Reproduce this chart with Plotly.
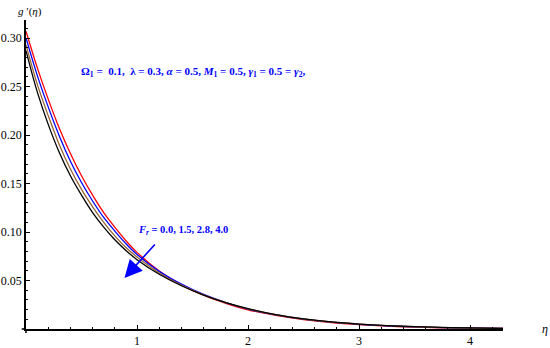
import plotly.graph_objects as go

# eta grid and g'(eta) for each F_r
eta = [0, 0.1, 0.2, 0.3, 0.4, 0.5, 0.6, 0.7, 0.8, 0.9, 1.0, 1.2, 1.4, 1.6, 1.8,
       2.0, 2.25, 2.5, 2.75, 3.0, 3.25, 3.5, 3.75, 4.0, 4.3]
g_fr00 = [0.307, 0.270, 0.237, 0.207, 0.181, 0.158, 0.138, 0.120, 0.105, 0.091, 0.079,
          0.0598, 0.0455, 0.0348, 0.0265, 0.0198, 0.014, 0.0097, 0.0066, 0.0045, 0.003,
          0.002, 0.0013, 0.0009, 0.0005]
g_fr15 = [0.300, 0.262, 0.229, 0.199, 0.173, 0.151, 0.132, 0.115, 0.101, 0.088, 0.0768,
          0.0594, 0.0462, 0.0356, 0.0272, 0.0205, 0.0145, 0.0101, 0.007, 0.0048, 0.0033,
          0.0022, 0.0015, 0.001, 0.0006]
g_fr28 = [0.293, 0.253, 0.220, 0.190, 0.165, 0.144, 0.126, 0.110, 0.096, 0.084, 0.0742,
          0.0578, 0.0452, 0.0352, 0.0272, 0.0208, 0.0147, 0.0103, 0.0072, 0.005, 0.0034,
          0.0023, 0.0015, 0.001, 0.0006]
g_fr40 = [0.287, 0.245, 0.211, 0.182, 0.158, 0.138, 0.120, 0.105, 0.092, 0.081, 0.0715,
          0.0565, 0.0446, 0.035, 0.0272, 0.021, 0.0149, 0.0105, 0.0073, 0.0051, 0.0035,
          0.0024, 0.0016, 0.0011, 0.0006]

series = [(g_fr00, "red"), (g_fr15, "blue"), (g_fr28, "#996633"), (g_fr40, "black")]

yticks = [0.05, 0.10, 0.15, 0.20, 0.25, 0.30]
xticks = [1, 2, 3, 4]

serif = "Liberation Serif"

fig = go.Figure()
for vals, col in series:
    fig.add_trace(go.Scatter(x=eta, y=vals, mode="lines", line=dict(color=col, width=1.3, shape="spline"),
                             showlegend=False, hoverinfo="skip"))

fig.update_layout(
    width=550, height=348,
    margin=dict(l=26, r=47, t=20, b=19),
    paper_bgcolor="white", plot_bgcolor="white",
    font=dict(family=serif, size=12, color="black"),
)
fig.update_xaxes(range=[0, 4.297], automargin=False, showgrid=False, zeroline=False, showline=True,
                 linecolor="black", linewidth=1.6, ticks="inside", ticklen=4, tickwidth=1, tickcolor="black",
                 tickvals=xticks, ticktext=[str(v) for v in xticks],
                 minor=dict(ticks="inside", dtick=0.2, ticklen=2, tickcolor="black"))
fig.update_yaxes(range=[0, 0.3186], automargin=False, showgrid=False, zeroline=False, showline=True,
                 linecolor="black", linewidth=1.6, ticks="inside", ticklen=4, tickwidth=1, tickcolor="black",
                 tickvals=yticks, ticktext=["%.2f" % v for v in yticks],
                 minor=dict(ticks="inside", dtick=0.01, ticklen=2, tickcolor="black"))

# little axis overshoots like Mathematica
fig.add_shape(type="line", xref="paper", yref="paper", x0=-0.009, x1=0, y0=0, y1=0,
              line=dict(color="black", width=1.6))
fig.add_shape(type="line", xref="paper", yref="paper", x0=0, x1=0, y0=-0.013, y1=0,
              line=dict(color="black", width=1.6))

fig.add_annotation(xref="paper", yref="paper", x=0.008, y=1.0, yanchor="bottom", xanchor="center",
                   text="<i>g</i> ′(<i>η</i>)", showarrow=False, font=dict(size=11, family=serif))
fig.add_annotation(xref="paper", yref="paper", x=1.088, y=0.0, xanchor="center", yanchor="middle",
                   text="<i>η</i>", showarrow=False, font=dict(size=12, family=serif))

fig.add_annotation(x=0.475, y=0.265, xanchor="left", yanchor="middle", showarrow=False,
                   text="<b>Ω<sub>1</sub> =  0.1,  λ = 0.3, <i>α</i> = 0.5, <i>M</i><sub>1</sub> = 0.5, "
                        "<i>γ</i><sub>1</sub> = 0.5 = <i>γ</i><sub>2</sub>,</b>",
                   font=dict(size=11, family=serif, color="blue"))
fig.add_annotation(x=0.995, y=0.1015, xanchor="left", yanchor="middle", showarrow=False,
                   text="<b><i>F<sub>r</sub></i> = 0.0, 1.5, 2.8, 4.0</b>",
                   font=dict(size=10.5, family=serif, color="blue"))
fig.add_annotation(x=0.887, y=0.0526, ax=1.173, ay=0.0887, xref="x", yref="y", axref="x", ayref="y",
                   text="", showarrow=True, arrowhead=2, arrowsize=2.2, arrowwidth=1.6, arrowcolor="blue")

# the page body has a default 8px margin; drop it so the figure sits at the corner
fig.write_html("out.html", config={"displayModeBar": False},
               post_script="document.body.style.margin='0px';")
